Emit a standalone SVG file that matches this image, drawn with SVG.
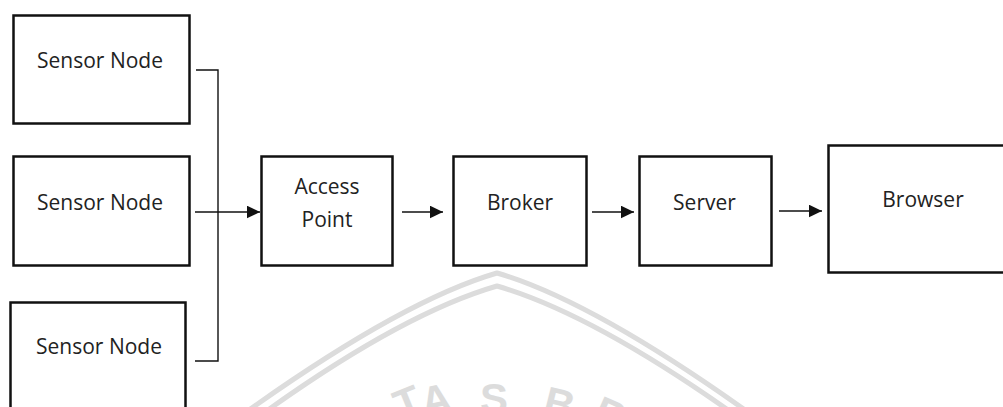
<svg xmlns="http://www.w3.org/2000/svg" width="1003" height="407" viewBox="0 0 1003 407">
  <defs>
    <style>
      .box { fill: #ffffff; stroke: #111111; stroke-width: 2.5; }
      .lbl { font-family: "Open Sans", "Noto Sans", "DejaVu Sans", sans-serif; font-size: 21px; fill: #222222; text-anchor: middle; }
      .wire { fill: none; stroke: #111111; stroke-width: 1.4; }
      .mark { fill: none; stroke: #dcdcdc; stroke-width: 5; stroke-linejoin: round; }
      .markTxt { font-family: "Liberation Sans", Arial, sans-serif; font-weight: bold; font-size: 42px; fill: #dcdcdc; text-anchor: middle; }
    </style>
    <marker id="arrow" markerUnits="userSpaceOnUse" markerWidth="14" markerHeight="14" refX="13" refY="6.3" orient="auto">
      <path d="M0,0 L13,6.3 L0,12.6 Z" fill="#111111"/>
    </marker>
  </defs>

  <rect width="1003" height="407" fill="#ffffff"/>

  <!-- faint seal in the background -->
  <g id="seal">
    <path class="mark" d="M249,410 Q404,300 497,273 Q590,300 745,410"/>
    <path class="mark" d="M268,410 Q404,313 497,286 Q590,313 728,410"/>
    <text class="markTxt" transform="translate(413,416) rotate(-22)">T</text>
    <text class="markTxt" transform="translate(439,414) rotate(-12)">A</text>
    <text class="markTxt" transform="translate(494,413) rotate(0)">S</text>
    <text class="markTxt" transform="translate(556,418) rotate(14)">B</text>
    <text class="markTxt" transform="translate(604,428) rotate(24)">R</text>
  </g>

  <g id="connectors">
    <polyline class="wire" points="196,70 218,70 218,361 195,361"/>
    <line class="wire" x1="195" y1="212" x2="260" y2="212" marker-end="url(#arrow)"/>
    <line class="wire" x1="402" y1="212" x2="443" y2="212" marker-end="url(#arrow)"/>
    <line class="wire" x1="592" y1="212" x2="634" y2="212" marker-end="url(#arrow)"/>
    <line class="wire" x1="779" y1="211" x2="822" y2="211" marker-end="url(#arrow)"/>
  </g>

  <g id="sensor1">
    <rect class="box" x="13.5" y="15.5" width="176" height="108"/>
    <text class="lbl" x="100" y="68">Sensor Node</text>
  </g>

  <g id="sensor2">
    <rect class="box" x="13.5" y="156.5" width="176" height="109"/>
    <text class="lbl" x="100" y="210">Sensor Node</text>
  </g>

  <g id="sensor3">
    <rect class="box" x="10.5" y="302.5" width="175" height="120"/>
    <text class="lbl" x="99" y="354">Sensor Node</text>
  </g>

  <g id="access-point">
    <rect class="box" x="261.5" y="156.5" width="131" height="109"/>
    <text class="lbl" x="327" y="194">Access</text>
    <text class="lbl" x="327" y="227">Point</text>
  </g>

  <g id="broker">
    <rect class="box" x="453.5" y="156.5" width="133" height="109"/>
    <text class="lbl" x="520" y="210">Broker</text>
  </g>

  <g id="server">
    <rect class="box" x="639.5" y="156.5" width="132" height="109"/>
    <text class="lbl" x="704.5" y="210">Server</text>
  </g>

  <g id="browser">
    <rect class="box" x="828.5" y="145.5" width="190" height="127"/>
    <text class="lbl" x="923" y="207">Browser</text>
  </g>
</svg>
